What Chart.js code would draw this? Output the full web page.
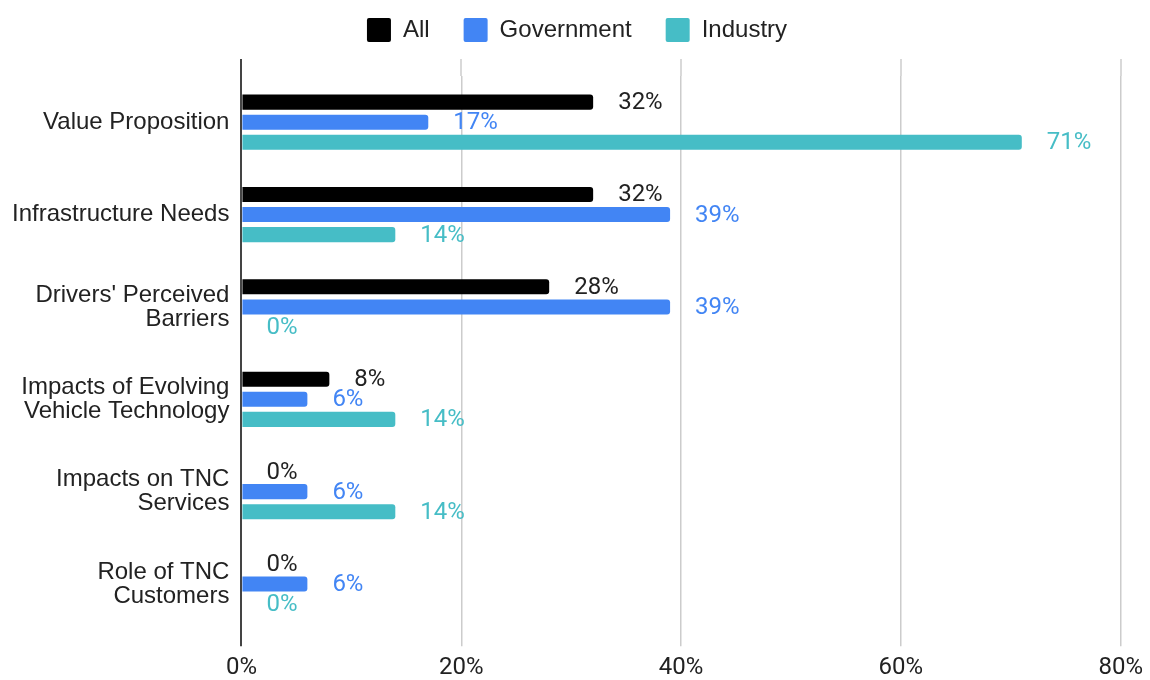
<!DOCTYPE html>
<html>
<head>
<meta charset="utf-8">
<script src="https://cdn.jsdelivr.net/npm/chart.js@4.4.0/dist/chart.umd.min.js"></script>
<style>
  html, body { margin: 0; padding: 0; background: #fff; }
</style>
</head>
<body>
<canvas id="surveyChart" width="1150" height="680"></canvas>
<script>
var categories = [
    ["Value Proposition"],
    ["Infrastructure Needs"],
    ["Drivers' Perceived", "Barriers"],
    ["Impacts of Evolving", "Vehicle Technology"],
    ["Impacts on TNC", "Services"],
    ["Role of TNC", "Customers"]
];
var seriesNames = ["All", "Government", "Industry"];
var allValues = [32, 32, 28, 8, 0, 0];
var governmentValues = [17, 39, 39, 6, 6, 6];
var industryValues = [71, 14, 0, 14, 14, 0];
var xTicks = [0, 20, 40, 60, 80];

var colors = ['#000000', '#4285f4', '#46bdc6'];
var labelColors = ['#222222', '#4285f4', '#46bdc6'];

// fixed legend height so the plot starts where it should
var legendHeight = {
    id: 'legendHeight',
    beforeInit: function(chart) {
        var fit = chart.legend.fit;
        chart.legend.fit = function() {
            fit.bind(chart.legend)();
            this.height = 92;
        };
    }
};

// grid lines poke out above the plot a little
var gridOverhang = {
    id: 'gridOverhang',
    beforeDatasetsDraw: function(chart) {
        var ctx = chart.ctx, area = chart.chartArea, xs = chart.scales.x;
        ctx.save();
        xs.ticks.forEach(function(t) {
            var x = Math.round(xs.getPixelForValue(t.value));
            ctx.strokeStyle = t.value === 0 ? '#444444' : '#cccccc';
            ctx.lineWidth = t.value === 0 ? 2 : 1.5;
            ctx.beginPath();
            ctx.moveTo(x, area.top - 17);
            ctx.lineTo(x, area.top);
            ctx.stroke();
        });
        ctx.restore();
    }
};

// value labels to the right of each bar
var valueLabels = {
    id: 'valueLabels',
    afterDatasetsDraw: function(chart) {
        var ctx = chart.ctx;
        ctx.save();
        ctx.font = '24px Roboto';
        ctx.textBaseline = 'middle';
        ctx.textAlign = 'left';
        chart.data.datasets.forEach(function(ds, i) {
            var meta = chart.getDatasetMeta(i);
            meta.data.forEach(function(bar, j) {
                ctx.fillStyle = labelColors[i];
                ctx.fillText(ds.data[j] + '%', bar.x + 25, bar.y + 1);
            });
        });
        ctx.restore();
    }
};

var ctx = document.getElementById('surveyChart');
var chart = new Chart(ctx, {
    type: 'bar',
    data: {
        labels: categories,
        datasets: [{
            label: seriesNames[0],
            data: allValues,
            backgroundColor: colors[0]
        }, {
            label: seriesNames[1],
            data: governmentValues,
            backgroundColor: colors[1]
        }, {
            label: seriesNames[2],
            data: industryValues,
            backgroundColor: colors[2]
        }]
    },
    options: {
        indexAxis: 'y',
        responsive: false,
        animation: false,
        devicePixelRatio: 1,
        datasets: {
            bar: {
                categoryPercentage: 0.652,
                barPercentage: 0.75,
                borderRadius: 3,
                borderSkipped: 'start',
                borderWidth: 0
            }
        },
        layout: { padding: { top: -16, right: -4, left: 0, bottom: -9 } },
        plugins: {
            legend: {
                position: 'top',
                labels: {
                    boxWidth: 24,
                    boxHeight: 24,
                    padding: 34,
                    useBorderRadius: true,
                    borderRadius: 2,
                    color: '#222222',
                    font: { family: 'Liberation Sans', size: 24 }
                }
            },
            tooltip: { enabled: false }
        },
        scales: {
            x: {
                min: 0,
                max: 80,
                afterBuildTicks: function(scale) {
                    scale.ticks = xTicks.map(function(v) { return { value: v }; });
                },
                ticks: {
                    padding: 7,
                    color: '#222222',
                    font: { family: 'Roboto', size: 24 },
                    callback: function(v) { return v + '%'; }
                },
                grid: {
                    drawTicks: true,
                    tickLength: 16,
                    color: function(c) { return c.tick && c.tick.value === 0 ? '#444444' : '#cccccc'; },
                    lineWidth: function(c) { return c.tick && c.tick.value === 0 ? 2 : 1.5; }
                },
                border: { display: false }
            },
            y: {
                ticks: {
                    padding: 12,
                    color: '#222222',
                    font: { family: 'Liberation Sans', size: 24, lineHeight: 1.0 }
                },
                grid: { display: false, drawTicks: false },
                border: { display: false }
            }
        }
    },
    plugins: [legendHeight, gridOverhang, valueLabels]
});
</script>
</body>
</html>
